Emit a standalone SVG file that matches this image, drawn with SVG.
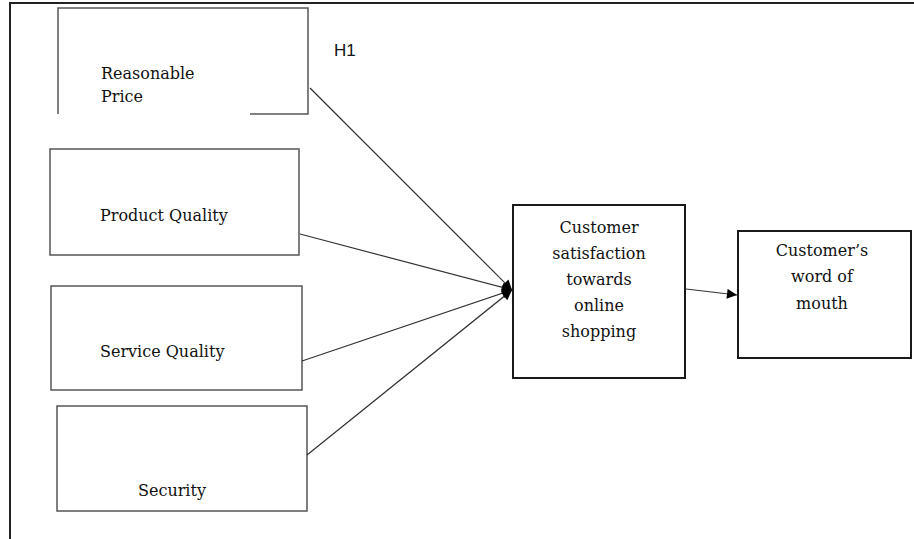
<svg xmlns="http://www.w3.org/2000/svg" width="914" height="539" viewBox="0 0 914 539">
  <style>
    .box { fill: #ffffff; stroke: #555555; stroke-width: 1.5; }
    .box-dark { fill: #ffffff; stroke: #1a1a1a; stroke-width: 2; }
    .label { font-family: "DejaVu Serif", "Liberation Serif", serif; font-size: 16px; fill: #111111; }
    .mid { text-anchor: middle; }
    .tag { font-family: "Liberation Sans", Arial, sans-serif; font-size: 17px; fill: #111111; }
    .edge { fill: none; stroke: #333333; stroke-width: 1.2; }
    .frame { fill: none; stroke: #222222; stroke-width: 2; }
  </style>
  <defs>
    <marker id="arrow" viewBox="0 0 10 10" refX="10" refY="5" markerWidth="12" markerHeight="10" markerUnits="userSpaceOnUse" orient="auto">
      <path d="M0,0 L10,5 L0,10 Z" fill="#000000"/>
    </marker>
  </defs>

  <rect width="914" height="539" fill="#ffffff"/>

  <!-- page frame: top rule and left rule -->
  <path class="frame" d="M10,539 L10,3 L914,3"/>

  <!-- Reasonable Price: open outline (left side, top, right side, short bottom stub) -->
  <g id="reasonable-price">
    <path class="box" d="M58,114 L58,8 L308,8 L308,114 L250,114"/>
    <text class="label" x="101" y="79">Reasonable</text>
    <text class="label" x="101" y="102">Price</text>
  </g>

  <g id="h1-label">
    <text class="tag" x="334" y="56">H1</text>
  </g>

  <g id="product-quality">
    <rect class="box" x="50" y="149" width="249" height="106"/>
    <text class="label" x="100" y="221">Product Quality</text>
  </g>

  <g id="service-quality">
    <rect class="box" x="51" y="286" width="251" height="104"/>
    <text class="label" x="100" y="357">Service Quality</text>
  </g>

  <g id="security">
    <rect class="box" x="57" y="406" width="250" height="105"/>
    <text class="label" x="138" y="496">Security</text>
  </g>

  <g id="customer-satisfaction">
    <rect class="box-dark" x="513" y="205" width="172" height="173"/>
    <text class="label mid" x="599" y="233">Customer</text>
    <text class="label mid" x="599" y="259">satisfaction</text>
    <text class="label mid" x="599" y="285">towards</text>
    <text class="label mid" x="599" y="311">online</text>
    <text class="label mid" x="599" y="337">shopping</text>
  </g>

  <g id="word-of-mouth">
    <rect class="box-dark" x="738" y="231" width="173" height="127"/>
    <text class="label mid" x="822" y="256">Customer’s</text>
    <text class="label mid" x="822" y="282">word of</text>
    <text class="label mid" x="822" y="309">mouth</text>
  </g>

  <g id="connectors">
    <line class="edge" x1="310" y1="88" x2="512" y2="290" marker-end="url(#arrow)"/>
    <line class="edge" x1="300" y1="234" x2="512" y2="290" marker-end="url(#arrow)"/>
    <line class="edge" x1="302" y1="361" x2="512" y2="290" marker-end="url(#arrow)"/>
    <line class="edge" x1="307" y1="455" x2="512" y2="290" marker-end="url(#arrow)"/>
    <line class="edge" x1="686" y1="289" x2="737" y2="295" marker-end="url(#arrow)"/>
  </g>
</svg>
